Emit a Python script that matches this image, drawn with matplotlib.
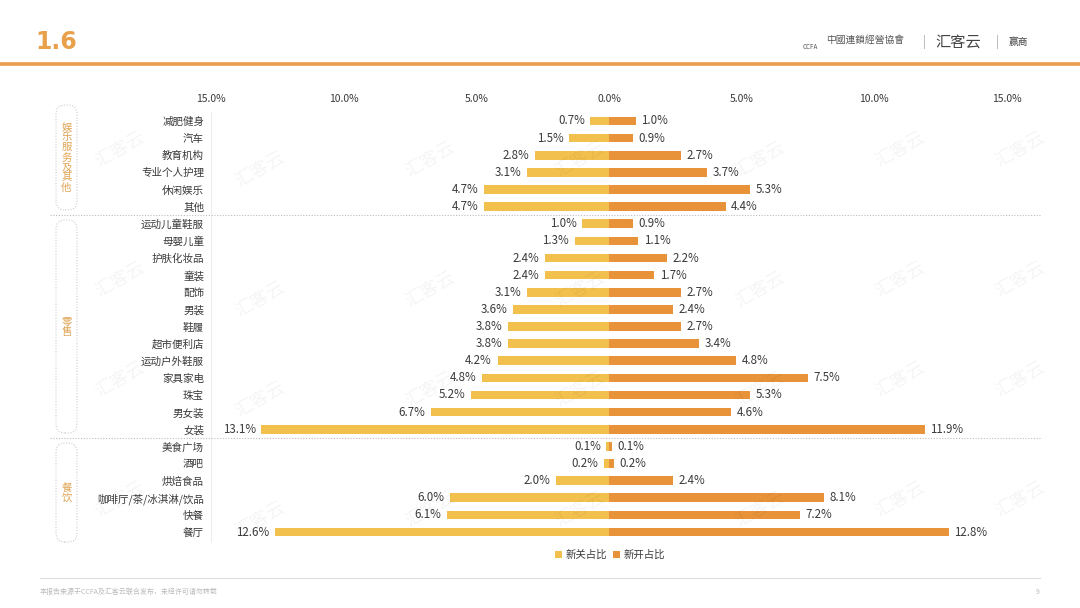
import matplotlib
matplotlib.use("Agg")
import matplotlib.pyplot as plt
from matplotlib.patches import FancyBboxPatch
from matplotlib.lines import Line2D
from matplotlib.transforms import IdentityTransform
import numpy as np

plt.rcParams['font.family'] = ['Noto Sans CJK SC', 'DejaVu Sans']

# data, top to bottom
categories = ['减肥健身', '汽车', '教育机构', '专业个人护理', '休闲娱乐', '其他',
              '运动儿童鞋服', '母婴儿童', '护肤化妆品', '童装', '配饰', '男装', '鞋履',
              '超市便利店', '运动户外鞋服', '家具家电', '珠宝', '男女装', '女装',
              '美食广场', '酒吧', '烘焙食品', '咖啡厅/茶/冰淇淋/饮品', '快餐', '餐厅']
closed_share = [0.7, 1.5, 2.8, 3.1, 4.7, 4.7,
                1.0, 1.3, 2.4, 2.4, 3.1, 3.6, 3.8, 3.8, 4.2, 4.8, 5.2, 6.7, 13.1,
                0.1, 0.2, 2.0, 6.0, 6.1, 12.6]
opened_share = [1.0, 0.9, 2.7, 3.7, 5.3, 4.4,
                0.9, 1.1, 2.2, 1.7, 2.7, 2.4, 2.7, 3.4, 4.8, 7.5, 5.3, 4.6, 11.9,
                0.1, 0.2, 2.4, 8.1, 7.2, 12.8]
groups = ['娱乐服务及其他', '零售', '餐饮']
group_sizes = [6, 13, 6]
ticks = [-15, -10, -5, 0, 5, 10, 15]
series_names = ['新关占比', '新开占比']

YELLOW = '#F2C04C'
ORANGE = '#E8923A'
TXT = '#3A3A3A'

fig = plt.figure(figsize=(10.8, 6.08), dpi=100)
W, H = 1080, 608

def fx(px):
    return px / W

def fy(py):
    return 1 - py / H

# header
fig.text(fx(35), fy(42), '1.6', color='#E8A04A', fontsize=17, fontweight='bold',
         va='center', ha='left', family=['DejaVu Sans'])
fig.add_artist(Line2D([0, 1], [fy(64), fy(64)], color=ORANGE, lw=2.6, alpha=0.9))
fig.text(fx(803), fy(47), 'CCFA', fontsize=4.5, color='#555555', va='center', ha='left')
fig.text(fx(826), fy(40), '中國連鎖經營協會', fontsize=7, color='#555555', va='center', ha='left')
fig.text(fx(924), fy(42), '|', fontsize=9, color='#aaaaaa', va='center', ha='center')
fig.text(fx(958), fy(42), '汇客云', fontsize=11, color='#444444', va='center', ha='center')
fig.text(fx(997), fy(42), '|', fontsize=9, color='#aaaaaa', va='center', ha='center')
fig.text(fx(1018), fy(42), '赢商', fontsize=7, color='#444444', va='center', ha='center')

# main axes: x from 211 to 1007 px, rows 121..532 px
row_gap = (532 - 121) / 24
ax_top = 121 - row_gap / 2
ax_bot = 532 + row_gap / 2
ax = fig.add_axes([fx(211), fy(ax_bot), fx(1007) - fx(211), (ax_bot - ax_top) / H])

n = len(categories)
y = np.arange(n)
closed = np.array(closed_share)
opened = np.array(opened_share)
ax.barh(y, -closed, height=0.5, color=YELLOW, label=series_names[0])
ax.barh(y, opened, height=0.5, color=ORANGE, label=series_names[1])
ax.set_xlim(-15, 15)
ax.set_ylim(n - 0.5, -0.5)

for i in range(n):
    ax.annotate(f'{closed[i]:.1f}%', (-closed[i], i), xytext=(-4, 0), textcoords='offset points',
                ha='right', va='center', fontsize=8.3, color=TXT)
    ax.annotate(f'{opened[i]:.1f}%', (opened[i], i), xytext=(4, 0), textcoords='offset points',
                ha='left', va='center', fontsize=8.3, color=TXT)

ax.set_yticks(y)
ax.set_yticklabels(categories, fontsize=7.6, color=TXT)
ax.tick_params(axis='y', length=0, pad=5)
ax.xaxis.tick_top()
ax.set_xticks(ticks)
ax.set_xticklabels([f'{abs(t):.1f}%' for t in ticks], fontsize=7.5, color=TXT)
ax.tick_params(axis='x', length=0, pad=6)
for s in ['top', 'right', 'bottom']:
    ax.spines[s].set_visible(False)
ax.spines['left'].set_color('#eeeeee')
ax.spines['left'].set_linewidth(0.8)

# group separators and group boxes (boxes drawn in pixel coords)
box_spans = [(105, 210), (220, 433), (443, 542)]
start = 0
for gi, (gname, size) in enumerate(zip(groups, group_sizes)):
    top_px = 121 + (start - 0.5) * row_gap
    if gi > 0:
        fig.add_artist(Line2D([fx(50), fx(1040)], [fy(top_px), fy(top_px)],
                              color='#bbbbbb', lw=0.8, ls=(0, (1, 1.5))))
    bx0, bx1 = 56, 77
    by0, by1 = box_spans[gi]
    box = FancyBboxPatch((bx0, H - by1), bx1 - bx0, by1 - by0,
                         boxstyle='round,pad=0,rounding_size=9',
                         transform=IdentityTransform(), fill=False,
                         edgecolor='#cccccc', lw=0.8, ls=(0, (1, 1.5)))
    fig.add_artist(box)
    fig.text(fx((bx0 + bx1) / 2), fy((by0 + by1) / 2), '\n'.join(gname),
             ha='center', va='center', fontsize=7.5, color='#E0A454', linespacing=1.0)
    start += size

# watermarks
for wx in [120, 260, 430, 580, 760, 900, 1020]:
    for wy in [150, 280, 380, 500]:
        fig.text(fx(wx), fy(wy + (wx % 3) * 10), '汇客云', fontsize=13, color='#000000',
                 alpha=0.045, rotation=30, ha='center', va='center')

# legend
handles, labels = ax.get_legend_handles_labels()
fig.legend(handles, labels, loc='center', bbox_to_anchor=(fx(610), fy(555)), ncol=2,
           frameon=False, fontsize=7.5, handlelength=0.7, handleheight=0.7,
           handletextpad=0.3, columnspacing=0.6, labelcolor=TXT)

# footer
fig.add_artist(Line2D([fx(40), fx(1040)], [fy(578), fy(578)], color='#dddddd', lw=0.8))
fig.text(fx(40), fy(592), '本报告来源于CCFA及汇客云联合发布，未经许可请勿转载',
         fontsize=5, color='#bbbbbb', ha='left', va='center')
fig.text(fx(1040), fy(592), '9', fontsize=5, color='#bbbbbb', ha='right', va='center')

fig.savefig('out.png', dpi=100, facecolor='white')
